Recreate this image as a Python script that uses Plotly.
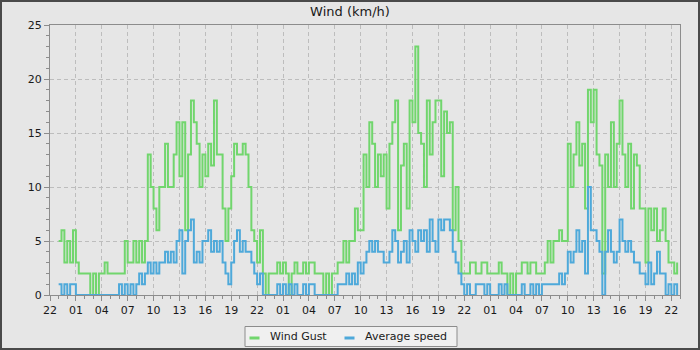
import pandas as pd
import plotly.graph_objects as go

# ---- data (20-minute samples, starting 23:00 on the first evening) ----
start_time = "2024-06-01 23:00"
sample_step = "20min"

gust = [
    5, 6, 3,  5, 3, 6,  3, 2, 2,  2, 2, 0,  2, 0, 2,  2, 3, 2,  2, 2, 2,  2, 2, 5,
    3, 3, 5,  3, 5, 3,  5, 13, 10,  8, 6, 10,  10, 14, 10,  10, 13, 16,  11, 16, 6,  13, 18, 16,
    14, 10, 13,  11, 14, 12,  18, 13, 13,  8, 5, 8,  11, 14, 13,  13, 14, 13,  10, 6, 5,  3, 6, 2,
    0, 2, 2,  2, 3, 2,  3, 2, 0,  2, 3, 2,  2, 3, 2,  3, 3, 2,  2, 2, 0,  2, 0, 2,
    2, 3, 3,  5, 3, 5,  5, 8, 6,  6, 13, 10,  16, 14, 10,  13, 11, 13,  8, 14, 16,  18, 6, 12,
    14, 8, 18,  16, 23, 15,  14, 10, 18,  13, 16, 18,  18, 11, 17,  15, 16, 6,  10, 5, 2,  2, 2, 3,
    3, 2, 2,  3, 3, 2,  2, 2, 2,  3, 2, 2,  0, 2, 0,  2, 2, 3,  3, 2, 3,  3, 2, 2,
    2, 3, 5,  3, 5, 5,  6, 5, 5,  14, 10, 13,  16, 12, 14,  8, 19, 16,  19, 13, 12,  2, 13, 10,
    16, 10, 14,  18, 13, 10,  14, 8, 13,  12, 8, 8,  3, 8, 6,  8, 5, 6,  8, 5, 3,  3, 2, 3,
]

average = [
    1, 0, 1,  0, 1, 1,  0, 0, 0,  0, 0, 0,  0, 0, 0,  0, 0, 0,  0, 0, 0,  1, 0, 1,
    0, 1, 0,  1, 2, 1,  2, 3, 2,  3, 2, 3,  3, 4, 3,  4, 3, 5,  6, 2, 5,  6, 7, 3,
    4, 3, 5,  5, 6, 4,  5, 4, 5,  3, 2, 1,  3, 5, 6,  4, 5, 4,  4, 3, 2,  1, 2, 0,
    0, 0, 0,  0, 1, 0,  1, 0, 1,  0, 1, 0,  0, 1, 0,  1, 1, 0,  0, 0, 0,  0, 0, 0,
    0, 1, 1,  1, 2, 1,  2, 1, 3,  2, 3, 4,  5, 4, 5,  4, 4, 3,  3, 4, 6,  5, 3, 4,
    5, 3, 6,  5, 4, 6,  5, 6, 4,  7, 5, 4,  7, 6, 7,  7, 6, 4,  3, 2, 1,  0, 1, 0,
    0, 1, 1,  1, 0, 1,  0, 0, 0,  1, 0, 1,  0, 0, 0,  0, 0, 1,  0, 0, 1,  0, 1, 0,
    1, 1, 1,  1, 1, 1,  2, 1, 2,  4, 3, 4,  6, 4, 5,  2, 10, 6,  6, 5, 4,  0, 4, 6,
    4, 3, 4,  7, 5, 4,  5, 4, 3,  3, 2, 2,  1, 3, 1,  2, 4, 2,  2, 0, 1,  0, 1, 0,
]

series_names = ["Wind Gust", "Average speed"]
title_text = "Wind (km/h)"
x_range = ["2024-06-01 22:00", "2024-06-04 23:00"]
y_range = [0, 25]

times = pd.date_range(start_time, periods=len(gust), freq=sample_step)

GREEN = "#71d66d"
BLUE = "#4ea9da"
BG = "#e6e6e6"
AXIS = "#8c8c8c"
GRID = "#bdbdbd"

fig = go.Figure()
for name, vals, col in [(series_names[0], gust, GREEN), (series_names[1], average, BLUE)]:
    fig.add_trace(go.Scatter(
        x=times, y=vals, mode="lines", name=name, showlegend=False,
        line=dict(color=col, width=2, shape="hv"),
        hoverinfo="skip",
    ))

L, R, T, B = 50, 20, 25, 55
W, H = 700, 350
pw, ph = W - L - R, H - T - B


def px_x(x):
    return (x - L) / pw


def px_y(y):
    return (H - B - y) / ph


shapes = [dict(
    type="rect", xref="paper", yref="paper",
    x0=px_x(0), x1=px_x(W), y0=px_y(H), y1=px_y(0),
    line=dict(color="#4a4a4a", width=4), fillcolor="rgba(0,0,0,0)", layer="above",
)]
annotations = []

# legend drawn as a box with short line samples and text labels
leg_box = (245, 326.5, 457, 346.5)
shapes.append(dict(
    type="rect", xref="paper", yref="paper",
    x0=px_x(leg_box[0]), x1=px_x(leg_box[2]), y0=px_y(leg_box[3]), y1=px_y(leg_box[1]),
    line=dict(color="#8c8c8c", width=1), fillcolor="#f0f0f0", layer="above",
))
leg_items = [(series_names[0], GREEN, 249.5, 259.5, 268), (series_names[1], BLUE, 344.5, 354.5, 363)]
ly = 337
for name, col, s0, s1, tx in leg_items:
    shapes.append(dict(type="line", xref="paper", yref="paper",
                       x0=px_x(s0), x1=px_x(s1), y0=px_y(ly + 1), y1=px_y(ly + 1),
                       line=dict(color=col, width=3), layer="above"))
    annotations.append(dict(text=name, xref="paper", yref="paper", x=px_x(tx), y=px_y(ly),
                            xanchor="left", yanchor="middle", showarrow=False,
                            font=dict(size=11, family="DejaVu Sans", color="#1a1a1a")))

fig.update_layout(
    width=W, height=H,
    margin=dict(l=L, r=R, t=T, b=B, pad=0),
    paper_bgcolor=BG, plot_bgcolor=BG,
    font=dict(family="DejaVu Sans", size=11, color="#1a1a1a"),
    title=dict(text=title_text, x=0.5, xref="container", xanchor="center",
               y=1 - 11 / H, yref="container", yanchor="middle",
               font=dict(size=13, family="DejaVu Sans", color="#1a1a1a")),
    showlegend=False,
    xaxis=dict(
        type="date", range=x_range, tick0="2024-06-01 22:00", dtick=3 * 3600000,
        tickformat="%H", ticks="outside", ticklen=5, tickcolor=AXIS, tickwidth=1,
        showline=True, linecolor=AXIS, linewidth=1, mirror=True,
        showgrid=True, gridcolor=GRID, griddash="4px,3px", gridwidth=1,
        zeroline=False, fixedrange=True, automargin=False,
        minor=dict(dtick=3600000, tick0="2024-06-01 22:00", ticks="outside", ticklen=3,
                   tickcolor=AXIS, showgrid=False),
    ),
    yaxis=dict(
        range=y_range, dtick=5, tick0=0, ticks="outside", ticklen=5, tickcolor=AXIS,
        showline=True, linecolor=AXIS, linewidth=1, mirror=True,
        showgrid=True, gridcolor=GRID, griddash="4px,3px", gridwidth=1,
        zeroline=False, fixedrange=True, automargin=False,
        minor=dict(dtick=1, ticks="outside", ticklen=3, tickcolor=AXIS, showgrid=False),
    ),
    shapes=shapes,
    annotations=annotations,
)

fig.write_html("out.html")
